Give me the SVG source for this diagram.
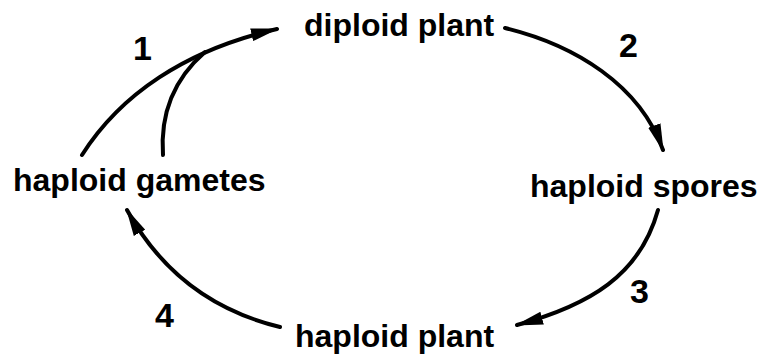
<svg xmlns="http://www.w3.org/2000/svg" width="763" height="358" viewBox="0 0 763 358">
<style>
.lbl{font-family:"Liberation Sans",Arial,sans-serif;font-weight:bold;font-size:32px;fill:#000}
.num{font-family:"Liberation Sans",Arial,sans-serif;font-weight:bold;font-size:34px;fill:#000}
.arr{fill:none;stroke:#000;stroke-width:4;stroke-linecap:round}
</style>
<defs>
<marker id="ah" markerUnits="userSpaceOnUse" markerWidth="28" markerHeight="16" refX="26" refY="8" orient="auto">
<path d="M0,1.5 L28,8 L0,14.5 z" fill="#000"/>
</marker>
</defs>
<rect width="763" height="358" fill="#fff"/>
<g id="connectors">
<path class="arr" d="M82,155 C120,95 185,50 277,29" marker-end="url(#ah)"/>
<path class="arr" d="M163,155 C160,112 175,78 205,52"/>
<path class="arr" d="M505,28 C575,45 640,85 663,150" marker-end="url(#ah)"/>
<path class="arr" d="M658,210 C640,275 590,305 517,325" marker-end="url(#ah)"/>
<path class="arr" d="M280,327 C210,310 160,270 127,210" marker-end="url(#ah)"/>
</g>
<g id="diploid-plant"><text class="lbl" x="304" y="36">diploid plant</text></g>
<g id="haploid-spores"><text class="lbl" x="530" y="197">haploid spores</text></g>
<g id="haploid-plant"><text class="lbl" x="295" y="347">haploid plant</text></g>
<g id="haploid-gametes"><text class="lbl" x="13" y="191">haploid gametes</text></g>
<g id="labels">
<text class="num" x="133" y="60">1</text>
<text class="num" x="619" y="57">2</text>
<text class="num" x="630" y="303">3</text>
<text class="num" x="155" y="327">4</text>
</g>
</svg>
